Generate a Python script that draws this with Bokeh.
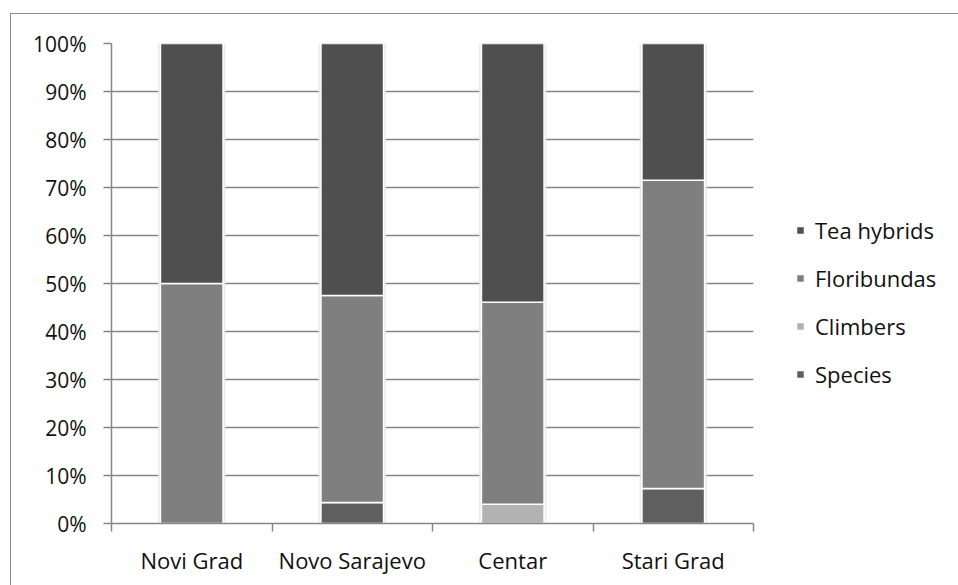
import numpy as np
from bokeh.plotting import figure
from bokeh.models import (Range1d, FixedTicker, PrintfTickFormatter, Legend, LegendItem,
                          ColumnDataSource, InlineStyleSheet)
from bokeh.embed import file_html
from bokeh.resources import INLINE

districts = ["Novi Grad", "Novo Sarajevo", "Centar", "Stari Grad"]
series = ["Species", "Climbers", "Floribundas", "Tea hybrids"]
species = [0.0, 4.4, 0.0, 7.3]
climbers = [0.0, 0.0, 4.0, 0.0]
floribundas = [50.0, 43.1, 42.1, 64.2]
tea_hybrids = [50.0, 52.5, 53.9, 28.5]
y_ticks = [0, 10, 20, 30, 40, 50, 60, 70, 80, 90, 100]

colors = ["#5f5f5f", "#b2b2b2", "#7f7f7f", "#4f4f4f"]
FONT = "Open Sans"
TXT = "#111111"

xpos = np.arange(len(districts)) + 0.5
src = ColumnDataSource(dict(x=xpos, Species=species, Climbers=climbers,
                            Floribundas=floribundas, **{"Tea hybrids": tea_hybrids}))

p = figure(output_backend="svg", toolbar_location=None,
           x_range=Range1d(0, len(districts)), y_range=Range1d(0, 100),
           frame_width=642, frame_height=480,
           min_border_left=111, min_border_right=205, min_border_top=43, min_border_bottom=62)
p.outline_line_color = None
p.background_fill_color = "white"
p.border_fill_color = "white"

# outer chart border via CSS
p.stylesheets = [InlineStyleSheet(css=""":host::after {
  content: ''; position: absolute; left: 10px; top: 13px; right: -20px; bottom: -20px;
  border: 1.5px solid #8a8a8a; pointer-events: none; }""")]

# shadow-ish backing
p.vbar(x="x", top=100, bottom=0, width=0.42, source=src, fill_color="#e6e6e6",
       line_color=None, fill_alpha=0.8)

renderers = p.vbar_stack(series, x="x", width=0.39, source=src, color=colors,
                         line_color="white", line_width=1.5)

# axes
p.xaxis.ticker = FixedTicker(ticks=list(xpos), minor_ticks=list(range(len(districts) + 1)))
p.xaxis.major_label_overrides = {float(x): d for x, d in zip(xpos, districts)}
p.xaxis.major_tick_out = 0
p.xaxis.major_tick_in = 0
p.xaxis.minor_tick_out = 8
p.xaxis.minor_tick_in = 0
p.xaxis.minor_tick_line_color = "#868686"
p.xaxis.minor_tick_line_width = 1.5
p.xaxis.axis_line_color = "#868686"
p.xaxis.axis_line_width = 1.5
p.xaxis.major_label_standoff = 13
p.xaxis.major_label_text_font_size = "22px"
p.xaxis.major_label_text_font = FONT
p.xaxis.major_label_text_color = TXT

p.yaxis.ticker = FixedTicker(ticks=y_ticks)
p.yaxis.formatter = PrintfTickFormatter(format="%d%%")
p.yaxis.major_tick_out = 8
p.yaxis.major_tick_in = 0
p.yaxis.minor_tick_line_color = None
p.yaxis.major_tick_line_color = "#868686"
p.yaxis.major_tick_line_width = 1.5
p.yaxis.axis_line_color = "#868686"
p.yaxis.axis_line_width = 1.5
p.yaxis.major_label_standoff = 17
p.yaxis.major_label_text_font_size = "21px"
p.yaxis.major_label_text_font = FONT
p.yaxis.major_label_text_color = TXT

p.xgrid.grid_line_color = None
p.ygrid.ticker = FixedTicker(ticks=y_ticks)
p.ygrid.grid_line_color = "#868686"
p.ygrid.grid_line_width = 1.5

items = [LegendItem(label=s, renderers=[r]) for s, r in zip(series, renderers)][::-1]
legend = Legend(items=items, location=(42, 134), orientation="vertical",
                glyph_width=10, glyph_height=10, label_height=24, spacing=18,
                label_text_font=FONT, label_text_font_size="22px",
                label_text_color=TXT, border_line_color=None,
                background_fill_alpha=0, padding=0, margin=0, label_standoff=10)
p.add_layout(legend, "right")

open("out.html", "w").write(file_html(p, INLINE))
